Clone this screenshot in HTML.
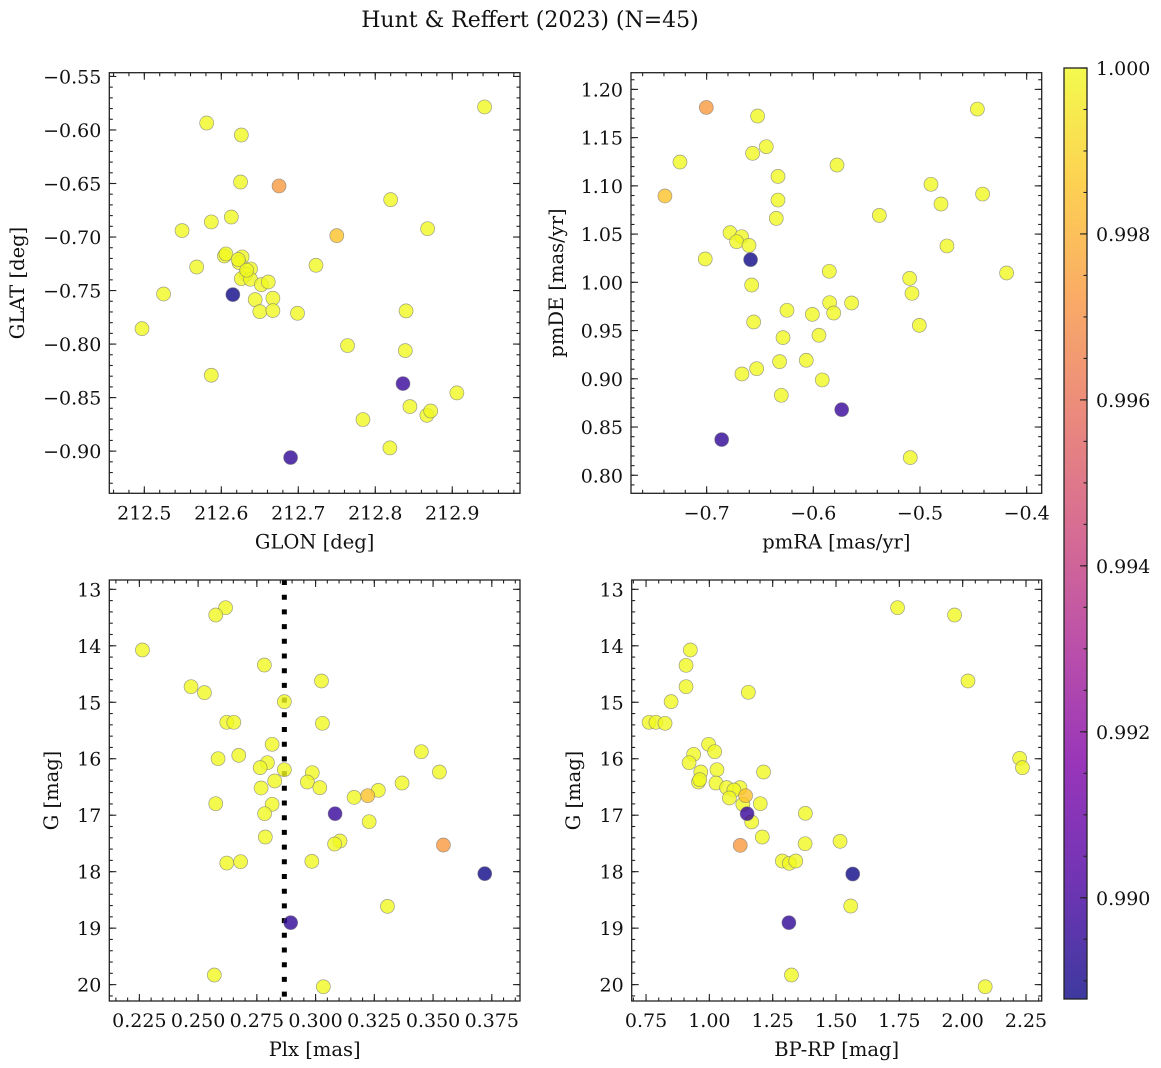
<!DOCTYPE html>
<html><head><meta charset="utf-8"><style>
body{margin:0;background:#fff;}
svg{display:block;font-family:"DejaVu Serif","Liberation Serif",serif;}
</style></head><body>
<svg id="fig" width="1161" height="1068" viewBox="0 0 1161 1068" xmlns="http://www.w3.org/2000/svg">
<text x="530" y="27" font-size="22" text-anchor="middle" fill="#111">Hunt &amp; Reffert (2023) (N=45)</text>
</svg>
<script>
// Panel 1: GLON vs GLAT
const glon=[212.942,212.581,212.626,212.625,212.675,212.820,212.613,212.587,212.549,212.868,212.750,212.604,212.606,212.627,212.623,212.568,212.723,212.638,212.632,212.626,212.638,212.652,212.661,212.525,212.615,212.644,212.667,212.650,212.667,212.699,212.840,212.497,212.764,212.839,212.587,212.836,212.906,212.845,212.867,212.872,212.784,212.819,212.690,212.633,212.622];
const glat=[-0.5785,-0.5935,-0.6047,-0.6486,-0.6523,-0.6651,-0.6813,-0.6859,-0.694,-0.6922,-0.6987,-0.7177,-0.7158,-0.7186,-0.7239,-0.728,-0.7264,-0.7298,-0.7348,-0.7389,-0.7395,-0.7445,-0.742,-0.7532,-0.7538,-0.7585,-0.7572,-0.7697,-0.7687,-0.7712,-0.769,-0.7856,-0.8014,-0.8061,-0.8291,-0.8369,-0.8456,-0.8584,-0.8665,-0.8625,-0.8705,-0.897,-0.906,-0.731,-0.721];
const prob1=[1,1,1,1,0.9973,1,1,1,1,1,0.9985,1,1,1,1,1,1,1,1,1,1,1,1,1,0.9888,1,1,1,1,1,1,1,1,1,1,0.9897,1,1,1,1,1,1,0.9895,1,1];
// Panel 2: pmRA vs pmDE
const pmra=[-0.7003,-0.6522,-0.6441,-0.6569,-0.725,-0.5778,-0.6331,-0.4462,-0.4897,-0.7391,-0.4413,-0.6331,-0.4803,-0.5381,-0.6347,-0.6781,-0.6672,-0.6719,-0.6603,-0.4747,-0.7013,-0.6588,-0.585,-0.4188,-0.5097,-0.6578,-0.5075,-0.5847,-0.5641,-0.6247,-0.5809,-0.6009,-0.6559,-0.5006,-0.5947,-0.6284,-0.6066,-0.6316,-0.6531,-0.6669,-0.5916,-0.63,-0.5734,-0.6859,-0.5091];
const pmde=[1.1813,1.1724,1.1406,1.1337,1.1247,1.1216,1.1098,1.1796,1.1016,1.0895,1.0915,1.0853,1.0812,1.0694,1.0663,1.0515,1.0473,1.0421,1.0383,1.0377,1.0242,1.0235,1.0114,1.0097,1.0041,0.9972,0.9886,0.9789,0.9786,0.971,0.9682,0.9668,0.9589,0.9554,0.9451,0.9427,0.9192,0.9178,0.9105,0.905,0.8988,0.8829,0.868,0.837,0.8183];
const prob2=[0.9973,1,1,1,1,1,1,1,1,0.9985,1,1,1,1,1,1,1,1,1,1,1,0.9888,1,1,1,1,1,1,1,1,1,1,1,1,1,1,1,1,1,1,1,1,0.9897,0.9895,1];
// Panel 3: Plx vs G
const plx=[0.2617,0.2575,0.2263,0.2782,0.3025,0.247,0.2527,0.2867,0.2622,0.2652,0.3029,0.2815,0.345,0.2673,0.2585,0.2795,0.2764,0.2867,0.3527,0.2986,0.2965,0.2826,0.3368,0.3018,0.2768,0.3267,0.3222,0.3164,0.2815,0.2575,0.3083,0.2783,0.3228,0.2786,0.3104,0.3081,0.3544,0.2984,0.2622,0.2681,0.372,0.3306,0.2894,0.2569,0.3033];
const gmag3=[13.325,13.455,14.074,14.34,14.623,14.724,14.83,14.989,15.355,15.355,15.373,15.745,15.875,15.94,15.999,16.07,16.158,16.194,16.235,16.247,16.412,16.394,16.43,16.512,16.518,16.56,16.654,16.684,16.807,16.796,16.973,16.973,17.115,17.386,17.457,17.51,17.528,17.817,17.847,17.823,18.035,18.614,18.903,19.83,20.037];
const prob3=[1,1,1,1,1,1,1,1,1,1,1,1,1,1,1,1,1,1,1,1,1,1,1,1,1,1,0.9985,1,1,1,0.9897,1,1,1,1,1,0.9973,1,1,1,0.9888,1,0.9895,1,1];
const plxMean=[0.2867];
// Panel 4: BP-RP vs G
const bprp=[1.743,1.968,0.925,0.908,2.021,0.908,1.154,0.849,0.762,0.789,0.825,0.997,0.938,1.021,2.225,0.92,2.236,0.966,1.03,1.214,0.957,0.962,1.026,1.068,1.121,1.097,1.143,1.079,1.132,1.201,1.149,1.379,1.167,1.209,1.378,1.516,1.122,1.288,1.316,1.341,1.566,1.558,1.314,1.324,2.089];
const gmag4=[13.325,13.455,14.074,14.346,14.623,14.724,14.824,14.989,15.355,15.355,15.373,15.745,15.922,15.875,15.993,16.07,16.158,16.235,16.194,16.235,16.412,16.37,16.43,16.512,16.512,16.554,16.654,16.695,16.807,16.796,16.973,16.967,17.12,17.386,17.504,17.463,17.534,17.811,17.852,17.811,18.041,18.608,18.903,19.83,20.037];
const prob4=[1,1,1,1,1,1,1,1,1,1,1,1,1,1,1,1,1,1,1,1,1,1,1,1,1,1,0.9985,1,1,1,0.9897,1,1,1,1,1,0.9973,1,1,1,0.9888,1,0.9895,1,1];
// Tick labels
const ticks1x=[212.5,212.6,212.7,212.8,212.9];
const ticks1y=[-0.55,-0.60,-0.65,-0.70,-0.75,-0.80,-0.85,-0.90];
const ticks2x=[-0.7,-0.6,-0.5,-0.4];
const ticks2y=[0.80,0.85,0.90,0.95,1.00,1.05,1.10,1.15,1.20];
const ticks3x=[0.225,0.250,0.275,0.300,0.325,0.350,0.375];
const ticksG=[13,14,15,16,17,18,19,20];
const ticks4x=[0.75,1.00,1.25,1.50,1.75,2.00,2.25];
const ticksCb=[0.990,0.992,0.994,0.996,0.998,1.000];

const NS="http://www.w3.org/2000/svg";
const svg=document.getElementById('fig');
function mk(tag,attrs,parent){const e=document.createElementNS(NS,tag);for(const k in attrs)e.setAttribute(k,attrs[k]);(parent||svg).appendChild(e);return e;}
const stops=[[0,'#0d0887'],[0.125,'#4c02a1'],[0.25,'#7e03a8'],[0.375,'#a92395'],[0.5,'#cc4778'],[0.625,'#e56b5d'],[0.75,'#f89540'],[0.875,'#fdc527'],[1,'#f0f921']];
function hx(h){return [1,3,5].map(i=>parseInt(h.substr(i,2),16));}
function plasma(t){t=Math.max(0,Math.min(1,t));for(let i=1;i<stops.length;i++){if(t<=stops[i][0]){const a=stops[i-1],b=stops[i];const f=(t-a[0])/(b[0]-a[0]);const ca=hx(a[1]),cb=hx(b[1]);return 'rgb('+ca.map((v,j)=>Math.round(v+(cb[j]-v)*f)).join(',')+')';}}return stops[stops.length-1][1];}
const CMIN=0.98878,CMAX=1.0;
function fmt(v,d){return (v<0?'\u2212':'')+Math.abs(v).toFixed(d);}
const FT=19, FL=19.5;

function panel(o){
  const g=mk('g',{});
  
  
  const X=v=>o.L+(v-o.xmin)/(o.xmax-o.xmin)*(o.R-o.L);
  const Y=v=>o.inv? o.T+(v-o.ymin)/(o.ymax-o.ymin)*(o.B-o.T) : o.B-(v-o.ymin)/(o.ymax-o.ymin)*(o.B-o.T);
  const cp=mk('clipPath',{id:'c'+o.name},g);mk('rect',{x:o.L,y:o.T,width:o.R-o.L,height:o.B-o.T},cp);
  const pg=mk('g',{'clip-path':'url(#c'+o.name+')'},g);
  if(o.vline){const l=mk('line',{x1:X(o.vline[0]),x2:X(o.vline[0]),y1:o.T,y2:o.B,stroke:'#000','stroke-width':5,'stroke-dasharray':'5 9.7'},pg);
    
    }
  const idx=o.xs.map((_,i)=>i).sort((a,b)=>o.ps[b]-o.ps[a]);
  idx.forEach(i=>{const c=mk('circle',{cx:X(o.xs[i]),cy:Y(o.ys[i]),r:7,fill:plasma((o.ps[i]-CMIN)/(CMAX-CMIN)),'fill-opacity':0.8,stroke:'#777','stroke-opacity':0.7,'stroke-width':0.7},pg);
    
    });
  const fr=mk('rect',{x:o.L,y:o.T,width:o.R-o.L,height:o.B-o.T,fill:'none',stroke:'#222','stroke-width':1.3},g);
  
  
  const tk=(x1,y1,x2,y2)=>mk('line',{x1,y1,x2,y2,stroke:'#222','stroke-width':1.1},g);
  const sx=o.xmaj/5, sy=o.ymaj/5;
  for(let v=Math.ceil(o.xmin/sx)*sx;v<=o.xmax+1e-9;v+=sx){const x=X(v);tk(x,o.B,x,o.B-3.5);tk(x,o.T,x,o.T+3.5);}
  const ylo=Math.min(o.ymin,o.ymax),yhi=Math.max(o.ymin,o.ymax);
  for(let v=Math.ceil(ylo/sy)*sy;v<=yhi+1e-9;v+=sy){const y=Y(v);tk(o.L,y,o.L+3.5,y);tk(o.R,y,o.R-3.5,y);}
  o.xt.forEach(v=>{const x=X(v);tk(x,o.B,x,o.B-7);tk(x,o.T,x,o.T+7);
    const t=mk('text',{x:x,y:o.B+26,'font-size':FT,'text-anchor':'middle',fill:'#111'},g);t.textContent=fmt(v,o.xd);
    
    });
  o.yt.forEach(v=>{const y=Y(v);tk(o.L,y,o.L+7,y);tk(o.R,y,o.R-7,y);
    const t=mk('text',{x:o.L-8,y:y+7,'font-size':FT,'text-anchor':'end',fill:'#111'},g);t.textContent=fmt(v,o.yd);
    
    });
  const xl=mk('text',{x:(o.L+o.R)/2,y:o.B+55,'font-size':FL,'text-anchor':'middle',fill:'#111'},g);xl.textContent=o.xlab;
  
  
  const yc=(o.T+o.B)/2;
  const yl=mk('text',{x:o.ylx,y:yc,'font-size':FL,'text-anchor':'middle',fill:'#111',transform:'rotate(-90 '+o.ylx+' '+yc+')'},g);yl.textContent=o.ylab;
  
  
}
panel({name:'panel-glon-glat',L:109.3,R:520,T:72.7,B:493.3,xmin:212.4545,xmax:212.988,ymin:-0.9394,ymax:-0.5465,xmaj:0.1,ymaj:0.05,xs:glon,ys:glat,ps:prob1,xt:ticks1x,yt:ticks1y,xd:1,yd:2,xlab:'GLON [deg]',ylab:'GLAT [deg]',ylx:24});
panel({name:'panel-pmra-pmde',L:631,R:1041.7,T:72.7,B:493.3,xmin:-0.7709,xmax:-0.3859,ymin:0.7813,ymax:1.2173,xmaj:0.1,ymaj:0.05,xs:pmra,ys:pmde,ps:prob2,xt:ticks2x,yt:ticks2y,xd:1,yd:2,xlab:'pmRA [mas/yr]',ylab:'pmDE [mas/yr]',ylx:563});
panel({name:'panel-plx-g',L:109.3,R:520,T:580,B:1001,xmin:0.2122,xmax:0.387,ymin:12.835,ymax:20.29,inv:true,xmaj:0.025,ymaj:1,xs:plx,ys:gmag3,ps:prob3,xt:ticks3x,yt:ticksG,xd:3,yd:0,xlab:'Plx [mas]',ylab:'G [mag]',ylx:58,vline:plxMean});
panel({name:'panel-bprp-g',L:631.7,R:1041.7,T:580,B:1001,xmin:0.6934,xmax:2.312,ymin:12.835,ymax:20.29,inv:true,xmaj:0.25,ymaj:1,xs:bprp,ys:gmag4,ps:prob4,xt:ticks4x,yt:ticksG,xd:2,yd:0,xlab:'BP-RP [mag]',ylab:'G [mag]',ylx:580});

// Colorbar
(function(){
  const L=1064,R=1087,T=68,B=999;
  const defs=mk('defs',{});const lg=mk('linearGradient',{id:'cbg',x1:0,y1:1,x2:0,y2:0},defs);
  stops.forEach(s=>mk('stop',{offset:s[0],'stop-color':s[1]},lg));
  const g=mk('g',{});
  
  
  mk('rect',{x:L,y:T,width:R-L,height:B-T,fill:'url(#cbg)','fill-opacity':0.8},g);
  mk('rect',{x:L,y:T,width:R-L,height:B-T,fill:'none',stroke:'#222','stroke-width':1.3},g);
  const Y=v=>B-(v-CMIN)/(CMAX-CMIN)*(B-T);
  for(let v=0.9890;v<=1.00001;v+=0.0005){const y=Y(v);mk('line',{x1:R,x2:R-3.5,y1:y,y2:y,stroke:'#222','stroke-width':1.1},g);}
  ticksCb.forEach(v=>{const y=Y(v);mk('line',{x1:R,x2:R-7,y1:y,y2:y,stroke:'#222','stroke-width':1.1},g);
    const t=mk('text',{x:R+9,y:y+7,'font-size':FT,fill:'#111'},g);t.textContent=v.toFixed(3);
    
    });
})();
</script>
</body></html>
